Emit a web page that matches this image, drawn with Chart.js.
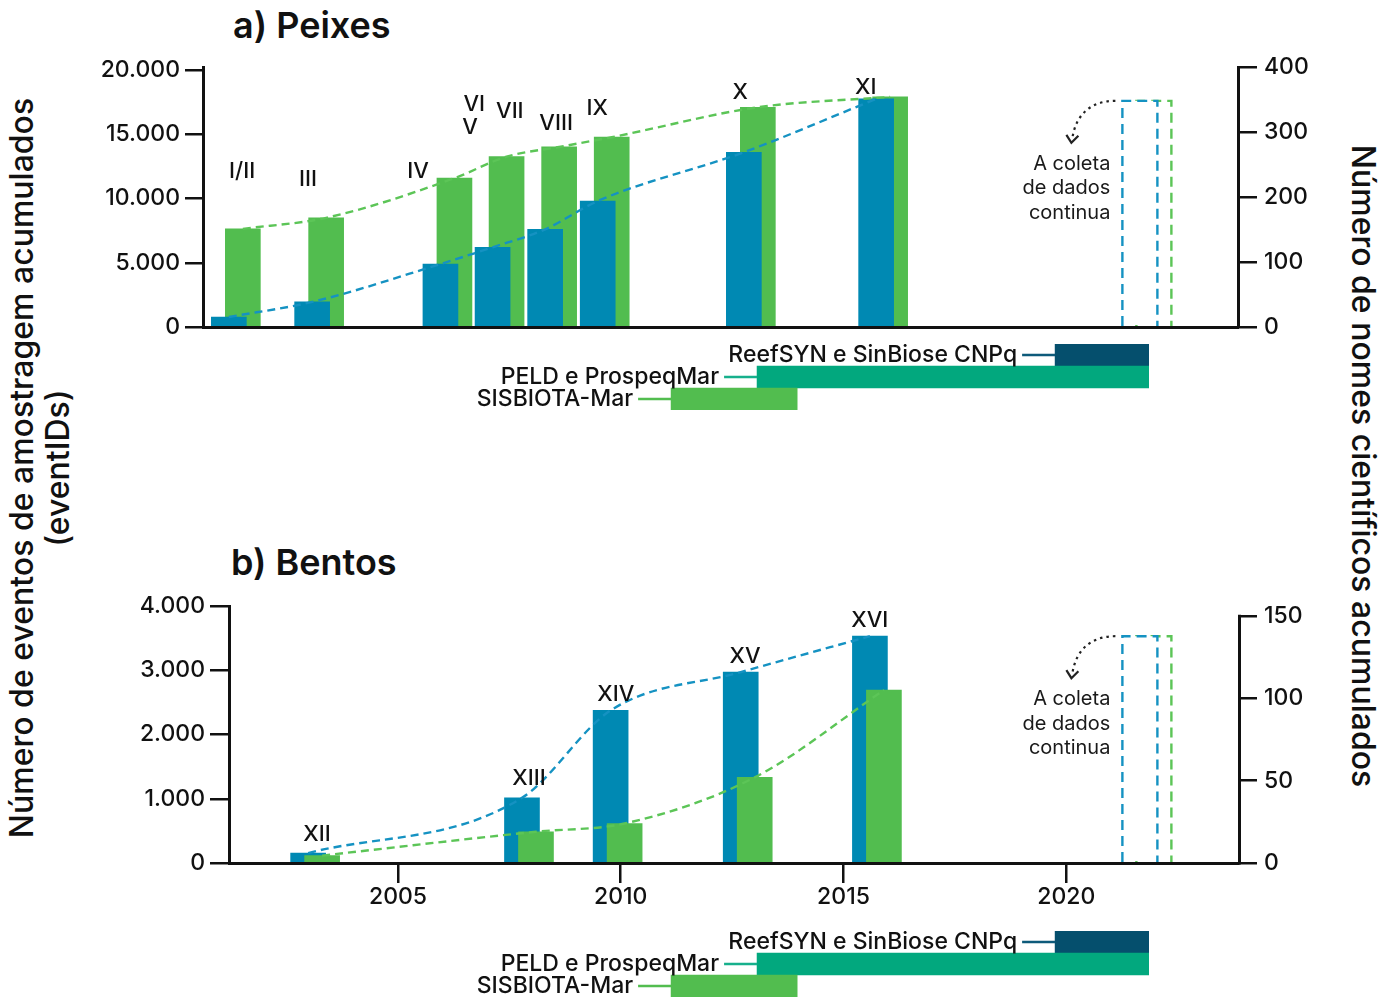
<!DOCTYPE html>
<html><head><meta charset="utf-8">
<script src="https://cdn.jsdelivr.net/npm/chart.js@4.4.1/dist/chart.umd.min.js"></script>
<style>
html,body{margin:0;padding:0;background:#fff;}
#wrap{position:relative;width:1390px;height:997px;overflow:hidden;font-family:Inter,'Noto Sans',sans-serif;color:#111;}
.box{position:absolute;left:0;width:1390px;}
.title{position:absolute;font-weight:600;font-size:36px;line-height:1;white-space:nowrap;}
.vt{position:absolute;white-space:nowrap;font-size:32px;font-weight:500;line-height:1;}
</style></head><body>
<div id="wrap">
  <div class="title" style="left:233px;top:7px">a) Peixes</div>
  <div class="title" style="left:231px;top:544px">b) Bentos</div>
  <div class="vt" style="left:22px;top:468px;transform:translate(-50%,-50%) rotate(-90deg)">Número de eventos de amostragem acumulados</div>
  <div class="vt" style="left:58px;top:468px;transform:translate(-50%,-50%) rotate(-90deg)">(eventIDs)</div>
  <div class="vt" style="left:1363px;top:466px;transform:translate(-50%,-50%) rotate(90deg)">Número de nomes científicos acumulados</div>
  <div class="box" style="top:0;height:350px"><canvas id="cA" width="1390" height="350"></canvas></div>
  <div class="box" style="top:344px;height:66px"><canvas id="tA" width="1390" height="66"></canvas></div>
  <div class="box" style="top:540px;height:390px"><canvas id="cB" width="1390" height="390"></canvas></div>
  <div class="box" style="top:931px;height:66px"><canvas id="tB" width="1390" height="66"></canvas></div>
</div>
<script>
// ---------- DATA ----------
// a) Peixes : campaign positions (year), cumulative sampling events, cumulative scientific names
const fishYears   = [2001.36, 2003.23, 2006.11, 2007.28, 2008.46, 2009.64, 2012.92, 2015.89];
const fishEvents  = [780, 1950, 4900, 6200, 7600, 9800, 13600, 17750];
const fishSpecies = [151, 168, 229, 262, 277, 292, 338, 354];
const fishTags      = ['I/II', 'III', 'IV', 'V', 'VI', 'VII', 'VIII', 'IX', 'X', 'XI'];
const fishTagYears  = [2001.50, 2002.98, 2005.45, 2006.62, 2006.71, 2007.51, 2008.55, 2009.47, 2012.68, 2015.50];
const fishTagLevels = [12140, 11520, 12140, 15560, 17350, 16810, 15880, 17040, 18290, 18680];
const fishFutureYear = 2021.81, fishFutureEvents = 17600;

// b) Bentos
const benthosYears   = [2003.14, 2007.94, 2009.93, 2012.85, 2015.75];
const benthosEvents  = [155, 1015, 2375, 2970, 3530];
const benthosSpecies = [4.5, 19, 24, 52, 105];
const benthosTags      = ['XII', 'XIII', 'XIV', 'XV', 'XVI'];
const benthosTagYears  = [2003.18, 2007.94, 2009.89, 2012.79, 2015.59];
const benthosTagLevels = [450, 1310, 2630, 3220, 3780];
const benthosFutureYear = 2021.81, benthosFutureEvents = 3530;

// Projects (funding timeline)
const projectNames = ['ReefSYN e SinBiose CNPq', 'PELD e ProspeqMar', 'SISBIOTA-Mar'];
const projectStart = [2019.75, 2013.06, 2011.13];
const projectEnd   = [2021.85, 2021.85, 2013.96];

// tick labels
const fishLeftTicks = [0, 5000, 10000, 15000, 20000];
const fishRightTicks = [0, 100, 200, 300, 400];
const benthosLeftTicks = [0, 1000, 2000, 3000, 4000];
const benthosRightTicks = [0, 50, 100, 150];
const yearTicks = [2005, 2010, 2015, 2020];

// ---------- STYLE / LAYOUT ----------
const BLUE = '#0089b3', GREEN = '#52bd4f', BLUE_L = '#1592c2', GREEN_L = '#5cc557';
const PROJ_COLORS = ['#054f6d', '#02a87e', '#52bd4f'];
const PROJ_LINES = ['#0d5a7a', '#17b08c', '#52bd4f'];
const INK = '#111';
const FONT = "Inter, 'Noto Sans', sans-serif";
const X2005 = 398, PXY = 44.55;           // pixel of year 2005 and pixels per year
const yearAt = px => 2005 + (px - X2005) / PXY;
const BAR = 35, OFF = 7, OFFY = OFF / PXY;
const W = 1390;

Chart.defaults.font.family = FONT;
Chart.defaults.color = INK;
Chart.defaults.animation = false;

const fmtDots = v => String(v).replace(/\B(?=(\d{3})+(?!\d))/g, '.');
const pts = (xs, vs, sign) => xs.map((x, i) => ({x: x + sign * OFFY, y: vs[i]}));

const extras = {
  id: 'extras',
  beforeDatasetsDraw(chart, args, o) {
    if (!o.rightLine) return;
    const ctx = chart.ctx, s = chart.scales.y2;
    const ticks = s.ticks;
    ctx.save();
    ctx.strokeStyle = INK; ctx.lineWidth = 3;
    ctx.beginPath();
    ctx.moveTo(s.left + 1.5, s.getPixelForValue(ticks[ticks.length - 1].value) - 1.25);
    ctx.lineTo(s.left + 1.5, s.getPixelForValue(0) + 1.5);
    ctx.stroke();
    ctx.restore();
  },
  afterDatasetsDraw(chart, args, o) {
    const ctx = chart.ctx, xs = chart.scales.x, ys = chart.scales.y;
    ctx.save();
    // future (continuing) dashed bars
    const cx = xs.getPixelForValue(o.futureYear);
    const top = ys.getPixelForValue(o.futureLevel);
    const base = ys.getPixelForValue(0) - 1;
    const h = BAR / 2;
    const bL = cx - OFF - h, bR = cx - OFF + h, gL = cx + OFF - h, gR = cx + OFF + h;
    ctx.lineWidth = 2.4;
    ctx.setLineDash([10, 6]);
    ctx.strokeStyle = GREEN_L;
    ctx.beginPath(); ctx.moveTo(gL, base); ctx.lineTo(gL, top); ctx.lineTo(gR, top); ctx.lineTo(gR, base); ctx.stroke();
    ctx.fillStyle = '#fff';
    ctx.fillRect(bL, top, bR - bL, base - top - 1);
    ctx.strokeStyle = BLUE_L;
    ctx.beginPath(); ctx.moveTo(bL, base); ctx.lineTo(bL, top); ctx.lineTo(bR, top); ctx.lineTo(bR, base); ctx.stroke();
    // dotted arrow
    ctx.strokeStyle = '#222';
    ctx.lineWidth = 2.2;
    ctx.setLineDash([2.5, 4]);
    ctx.beginPath();
    ctx.moveTo(bL - 7, top);
    ctx.bezierCurveTo(bL - 30, top, bL - 46, top + 12, bL - 50, top + 37);
    ctx.stroke();
    ctx.setLineDash([]);
    ctx.beginPath();
    ctx.moveTo(bL - 56, top + 34); ctx.lineTo(bL - 51, top + 42); ctx.lineTo(bL - 44, top + 35);
    ctx.stroke();
    // note
    ctx.fillStyle = '#1a1a1a';
    ctx.font = "400 20px " + FONT;
    ctx.textAlign = 'right'; ctx.textBaseline = 'middle';
    ['A coleta', 'de dados', 'continua'].forEach((t, i) => ctx.fillText(t, bL - 12, top + 63 + i * 24.5));
    // campaign tags
    ctx.fillStyle = INK;
    ctx.font = "500 22px " + FONT;
    ctx.textAlign = 'center';
    o.tags.forEach((t, i) => ctx.fillText(t, xs.getPixelForValue(o.tagYears[i]), ys.getPixelForValue(o.tagLevels[i])));
    ctx.restore();
  }
};

function mainChart(id, p) {
  const leftW = p.leftW, rightW = 152;
  const xmin = yearAt(leftW), xmax = yearAt(W - rightW);
  const axisGrid = (len) => ({drawOnChartArea: false, drawTicks: true, tickLength: len, color: INK, lineWidth: 2.5, offset: false});
  const border = {display: true, color: INK, width: 3};
  const tickFont = {size: 23, weight: '500'};
  const ds = [
    {type: 'line', data: pts(p.years, p.events, -1), yAxisID: 'y', borderColor: BLUE_L, borderWidth: 2.4, borderDash: [8, 5], pointRadius: 0, cubicInterpolationMode: 'monotone', fill: false, order: 0},
    {type: 'line', data: pts(p.years, p.species, +1), yAxisID: 'y2', borderColor: GREEN_L, borderWidth: 2.4, borderDash: [8, 5], pointRadius: 0, cubicInterpolationMode: 'monotone', fill: false, order: 0},
    {type: 'bar', data: pts(p.years, p.events, -1), yAxisID: 'y', backgroundColor: BLUE, barThickness: BAR, grouped: false, borderWidth: 0, order: p.blueOrder},
    {type: 'bar', data: pts(p.years, p.species, +1), yAxisID: 'y2', backgroundColor: GREEN, barThickness: BAR, grouped: false, borderWidth: 0, order: p.greenOrder}
  ];
  return new Chart(document.getElementById(id), {
    type: 'bar',
    data: {datasets: ds},
    options: {
      responsive: false, animation: false,
      layout: {padding: {top: p.padTop, bottom: p.padBottom, left: 0, right: 0}},
      plugins: {legend: {display: false}, tooltip: {enabled: false},
        extras: {futureYear: p.futureYear, futureLevel: p.futureLevel, tags: p.tags, tagYears: p.tagYears, tagLevels: p.tagLevels, rightLine: p.rightLine}},
      scales: {
        x: {type: 'linear', min: xmin, max: xmax, offset: false, position: 'bottom',
            grid: p.showYears ? axisGrid(20) : {display: false, drawTicks: false},
            border: border,
            ticks: {display: p.showYears, font: {size: 23, weight: '500'}, padding: 0, callback: v => String(v), maxRotation: 0, autoSkip: false},
            afterBuildTicks: s => { s.ticks = yearTicks.map(v => ({value: v})); },
            afterFit: s => { s.height = p.xHeight; }},
        y: {type: 'linear', position: 'left', min: 0, max: p.leftMax,
            grid: axisGrid(p.leftTick), border: border,
            ticks: {font: tickFont, padding: p.leftPad, callback: v => fmtDots(v)},
            afterBuildTicks: s => { s.ticks = p.leftTicks.map(v => ({value: v})); },
            afterFit: s => { s.width = leftW; }},
        y2: {type: 'linear', position: 'right', min: 0, max: p.rightMax,
            grid: axisGrid(19), border: {display: !p.rightLine, color: INK, width: 3},
            ticks: {font: tickFont, padding: 7, callback: v => String(v)},
            afterBuildTicks: s => { s.ticks = p.rightTicks.map(v => ({value: v})); },
            afterFit: s => { s.width = rightW; }}
      }
    },
    plugins: [extras]
  });
}

// a) Peixes : chart area 203..1238 x 67..327
mainChart('cA', {
  leftW: 203, padTop: 67, padBottom: 1, xHeight: 22, showYears: false, rightLine: false,
  years: fishYears, events: fishEvents, species: fishSpecies,
  leftMax: 20000 * 260 / 257, rightMax: 400, leftTicks: fishLeftTicks, rightTicks: fishRightTicks,
  leftTick: 18, leftPad: 5, blueOrder: 1, greenOrder: 2,
  futureYear: fishFutureYear, futureLevel: fishFutureEvents,
  tags: fishTags, tagYears: fishTagYears, tagLevels: fishTagLevels
});

// b) Bentos : chart area 229..1238 x 606..863 (page)
mainChart('cB', {
  leftW: 229, padTop: 66, padBottom: 17, xHeight: 50, showYears: true, rightLine: true,
  years: benthosYears, events: benthosEvents, species: benthosSpecies,
  leftMax: 4000, rightMax: 150 * 257 / 247, leftTicks: benthosLeftTicks, rightTicks: benthosRightTicks,
  leftTick: 19, leftPad: 5, blueOrder: 2, greenOrder: 1,
  futureYear: benthosFutureYear, futureLevel: benthosFutureEvents,
  tags: benthosTags, tagYears: benthosTagYears, tagLevels: benthosTagLevels
});

const tlLabels = {
  id: 'tlLabels',
  afterDatasetsDraw(chart) {
    const ctx = chart.ctx;
    ctx.save();
    ctx.font = "500 23px " + FONT;
    ctx.textAlign = 'right'; ctx.textBaseline = 'middle';
    chart.getDatasetMeta(0).data.forEach((el, i) => {
      const pr = el.getProps(['x', 'y', 'base'], true);
      const start = Math.min(pr.x, pr.base);
      ctx.strokeStyle = PROJ_LINES[i]; ctx.lineWidth = 2.5;
      ctx.beginPath(); ctx.moveTo(start - 33, pr.y); ctx.lineTo(start, pr.y); ctx.stroke();
      ctx.fillStyle = INK;
      ctx.fillText(projectNames[i], start - 38, pr.y);
    });
    ctx.restore();
  }
};

function timeline(id) {
  return new Chart(document.getElementById(id), {
    type: 'bar',
    data: {labels: projectNames, datasets: [{
      data: projectStart.map((s, i) => [s, projectEnd[i]]),
      backgroundColor: PROJ_COLORS, borderWidth: 0, barPercentage: 1, categoryPercentage: 1
    }]},
    options: {
      indexAxis: 'y', responsive: false, animation: false,
      layout: {padding: 0},
      plugins: {legend: {display: false}, tooltip: {enabled: false}},
      scales: {
        x: {type: 'linear', min: yearAt(0), max: yearAt(W), display: false},
        y: {display: false}
      }
    },
    plugins: [tlLabels]
  });
}
timeline('tA');
timeline('tB');
</script>
</body></html>
